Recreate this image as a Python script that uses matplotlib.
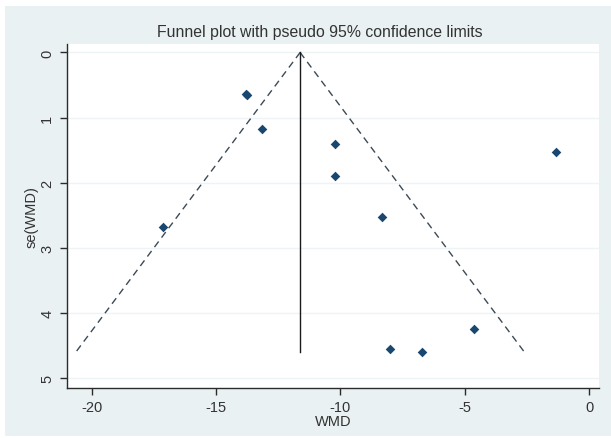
import numpy as np
import matplotlib
matplotlib.use("Agg")
import matplotlib.pyplot as plt
from matplotlib.patches import Rectangle

plt.rcParams["font.family"] = ["Liberation Sans", "DejaVu Sans"]
plt.rcParams["axes.unicode_minus"] = False

# study estimates
wmd = [-13.80, -13.74, -13.14, -17.12, -10.20, -10.20, -8.34, -1.32, -4.63, -8.00, -6.71]
se_wmd = [0.64, 0.66, 1.18, 2.68, 1.40, 1.90, 2.53, 1.52, 4.25, 4.55, 4.60]

pooled = -11.62
se_max = 4.59
x_ticks = [-20, -15, -10, -5, 0]
y_ticks = [0, 1, 2, 3, 4, 5]

bg = "#e9f1f3"
navy = "#1a476f"
txt = "#333333"

fig = plt.figure(figsize=(6.11, 4.39), dpi=100)
fig.patch.set_facecolor("white")
fig.patches.append(Rectangle((5 / 611, 0.005), 1 - 5 / 611, 1 - 7 / 439 - 0.005,
                             transform=fig.transFigure, facecolor=bg,
                             edgecolor="none", zorder=-10))

ax = fig.add_axes([66.7 / 611, 1 - 389 / 439, (599 - 66.7) / 611, (389 - 45) / 439])
ax.set_facecolor("white")

# pseudo 95% limits
se_line = np.array([0, se_max])
ax.plot(pooled - 1.96 * se_line, se_line, ls=(0, (5, 3.5)), color="#3c4a55", lw=1.0)
ax.plot(pooled + 1.96 * se_line, se_line, ls=(0, (5, 3.5)), color="#3c4a55", lw=1.0)
ax.plot([pooled, pooled], se_line, color="#1a1a1a", lw=1.0)

ax.scatter(wmd, se_wmd, marker="D", s=24, color=navy, zorder=3, linewidths=0)

ax.set_xlim(-21.0, 0.39)
ax.set_ylim(5.149, -0.13)
ax.set_xticks(x_ticks)
ax.set_yticks(y_ticks)
ax.set_yticklabels([str(t) for t in y_ticks], rotation=90, va="center")
ax.grid(axis="y", color="#eef4f6", lw=1.0)
ax.set_axisbelow(True)

for side in ["top", "right"]:
    ax.spines[side].set_visible(False)
for side in ["left", "bottom"]:
    ax.spines[side].set_color("#2b2b2b")
    ax.spines[side].set_linewidth(1.0)

ax.tick_params(direction="out", length=5, width=1.0, color="#2b2b2b",
               labelsize=10.5, labelcolor=txt, pad=4)

ax.set_xlabel("WMD", fontsize=10.5, color=txt, labelpad=0)
ax.set_ylabel("se(WMD)", fontsize=10.5, color=txt, labelpad=1)
fig.text(319.5 / 611, 1 - 33 / 439, "Funnel plot with pseudo 95% confidence limits",
         fontsize=11.4, color=txt, ha="center", va="center")

fig.savefig("out.png", dpi=100, facecolor=fig.get_facecolor())
